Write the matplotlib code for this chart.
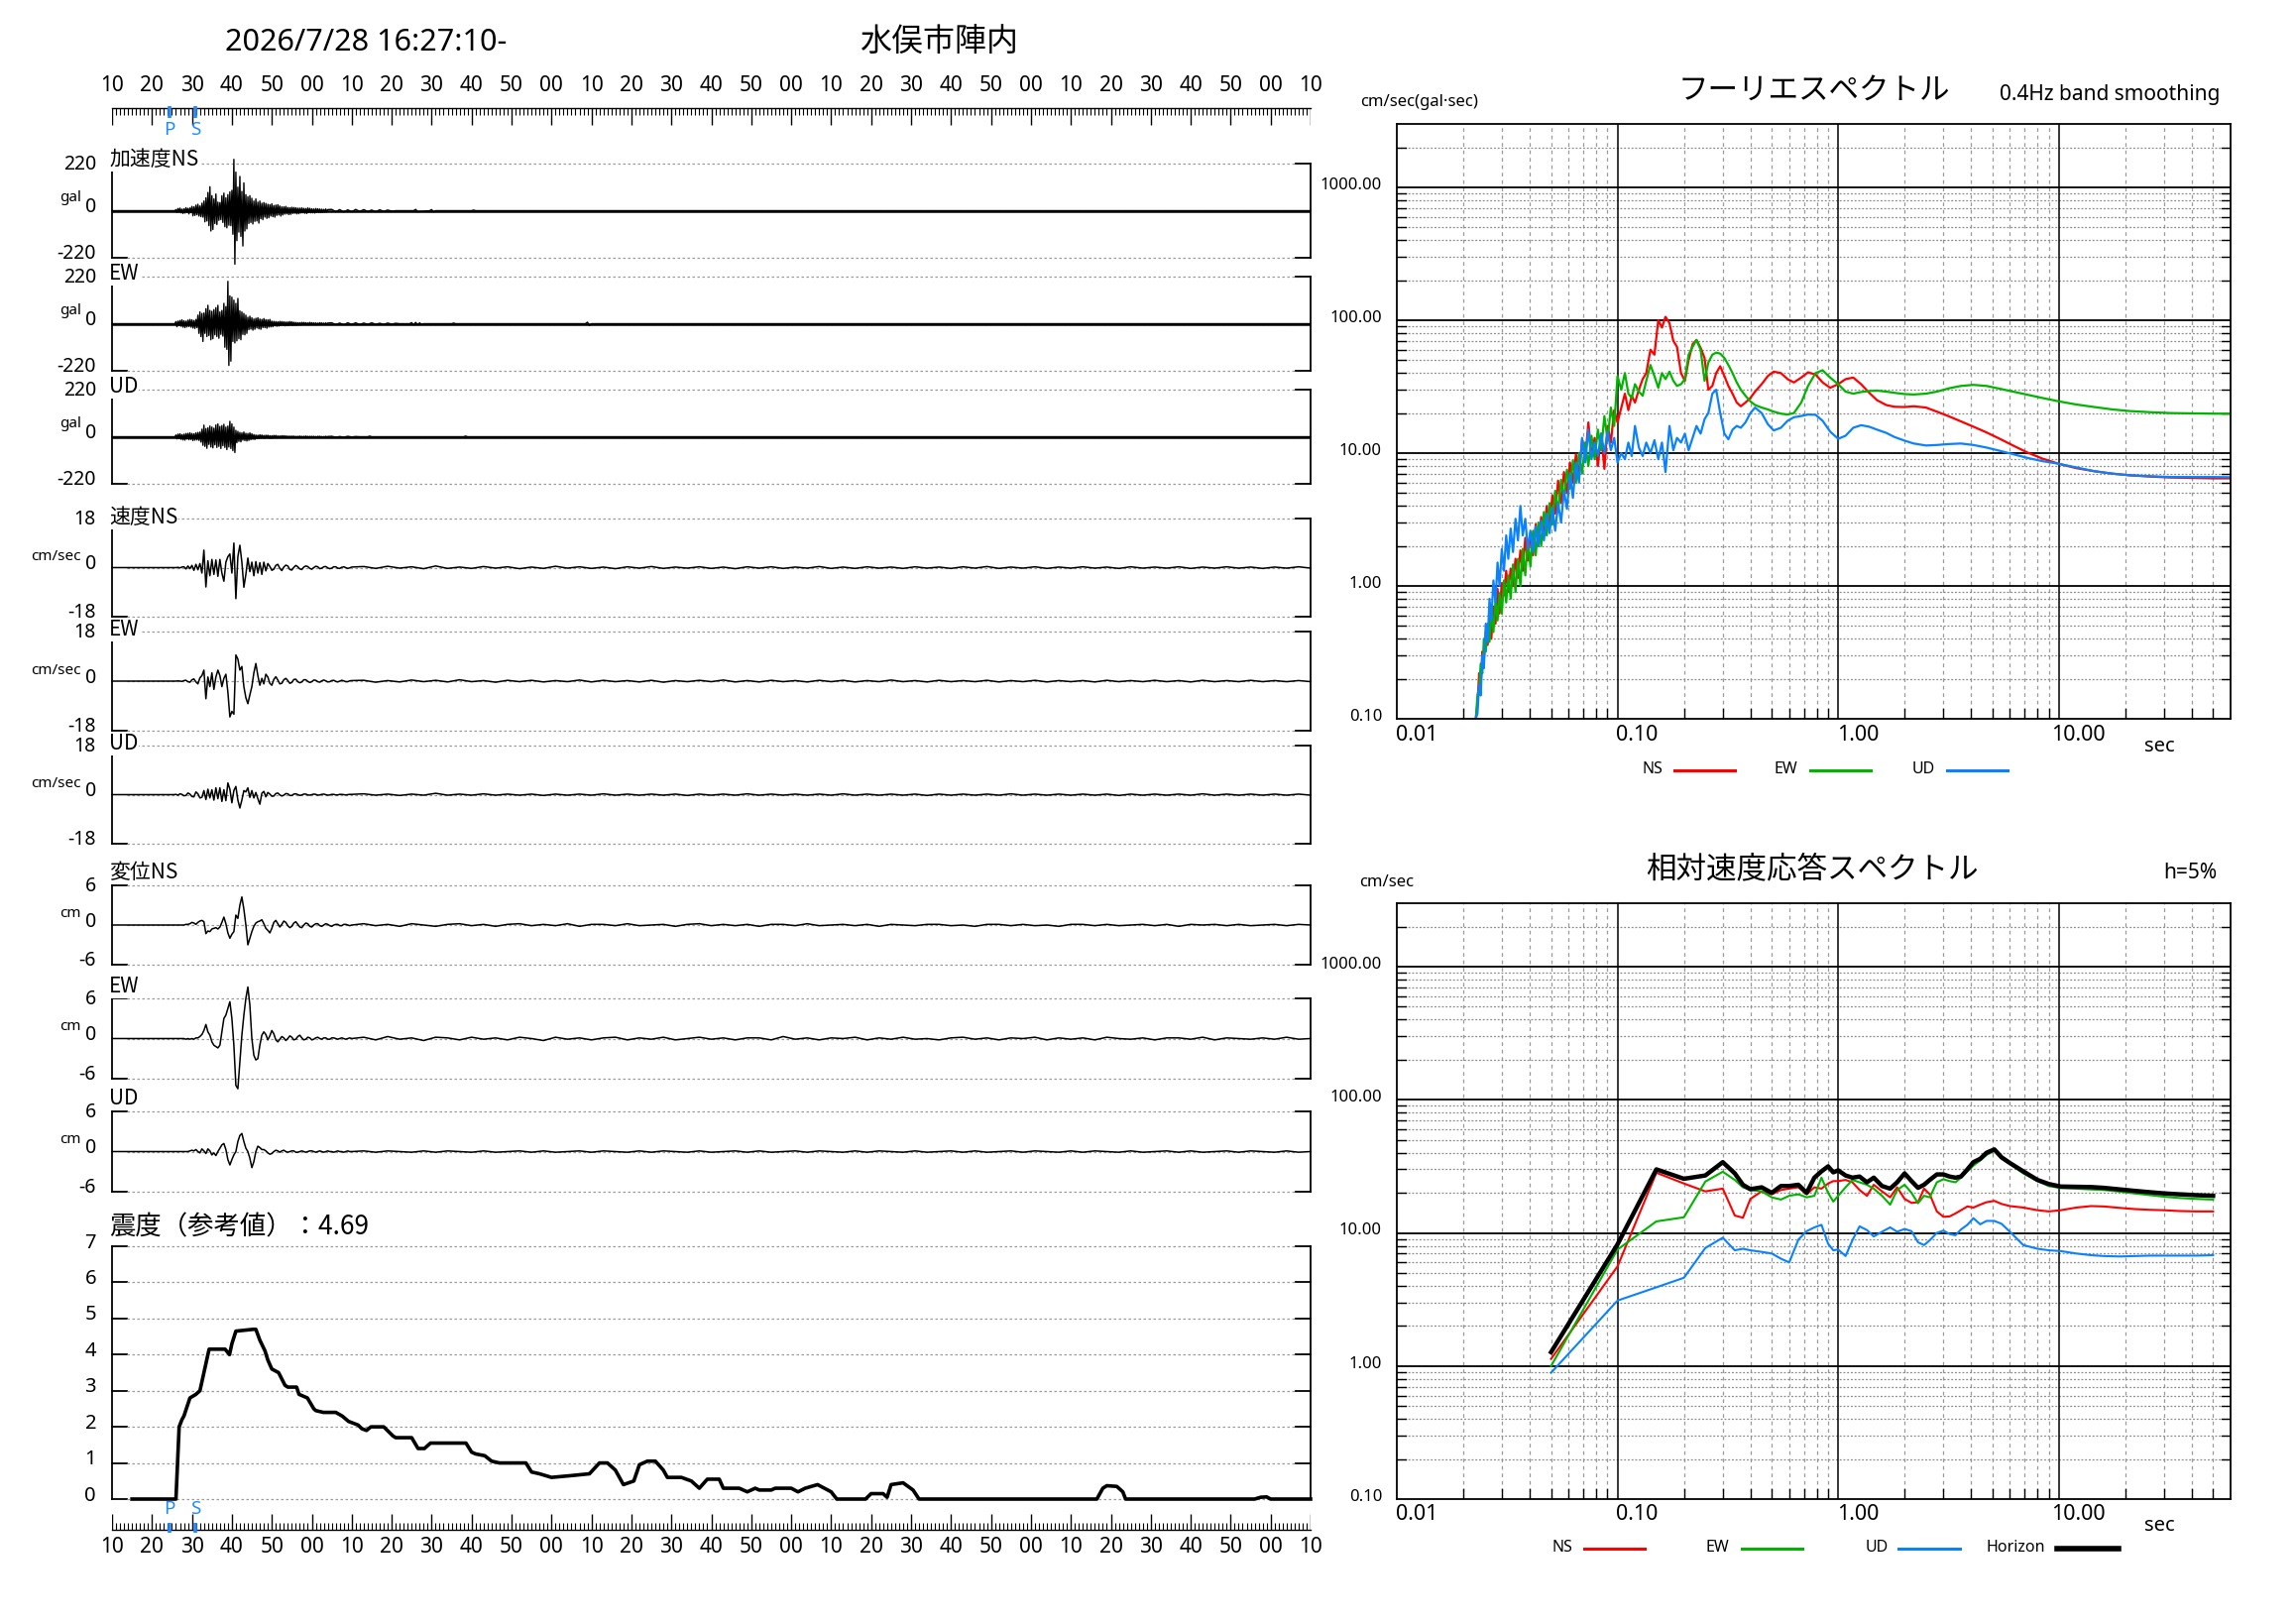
import numpy as np
import matplotlib
matplotlib.use("Agg")
import matplotlib.pyplot as plt
from matplotlib.ticker import NullLocator

W, H = 2316, 1637
JP = ['Noto Sans CJK JP', 'DejaVu Sans']
plt.rcParams['font.family'] = ['Noto Sans', 'DejaVu Sans']

RED, GREEN, BLUE = '#ff0000', '#00b400', '#0a82ff'
PS_BLUE = '#1e8cff'
GRID = '#9a9a9a'

# ---------------- waveform data (times in s from 16:27:10) ----------------
P_TIME, S_TIME = 14.4, 20.8
TIME_LABELS = ['10', '20', '30', '40', '50', '00', '10', '20', '30', '40', '50', '00',
               '10', '20', '30', '40', '50', '00', '10', '20', '30', '40', '50', '00',
               '10', '20', '30', '40', '50', '00', '10']

# acceleration (gal), samples every 0.25 s from 16 s
ACC_NS = [5, -8, 10, -6, 12, -10, 7, -13, 9, -11, 14, -8, 11, -15, 13, -9,
          20, -24, 18, -22, 26, -19, 30, -25, 22, -28, 35, -30, 45, -52, 60, -48,
          85, -70, 112, -95, 70, -88, 55, -60, 78, -65, 40, -45, 38, -42, 70, -55,
          82, -75, 60, -80, 75, -68, 88, -70, 95, -110, 240, -250, 180, -140, 110, -100,
          160, -120, 90, -165, 130, -95, 75, -85, 65, -60, 70, -55, 58, -62, 45, -50,
          55, -48, 40, -58, 45, -38, 35, -42, 38, -30, 34, -36, 30, -33, 28, -25,
          32, -28, 24, -30, 26, -22, 28, -20, 22, -25, 18, -20, 18, -16, 20, -15,
          15, -18, 14, -17, 16, -13, 15, -12, 14, -15, 12, -14, 12, -11, 13, -10,
          11, -12, 10, -13, 13, -9, 11, -10, 9, -10, 8, -11, 10, -8, 9, -9,
          8, -9, 7, -8, 6, -7, 8, -6, 5]
ACC_NS_TAIL_T = [55, 56, 57, 58, 59, 60, 61, 62, 63, 64, 65, 66, 67, 68, 69, 70, 71,
                 75.5, 76, 76.5, 79.5, 80, 80.5, 81, 90, 90.5, 91, 300]
ACC_NS_TAIL_V = [6, -5, 5, -6, 4, -5, 6, -4, 5, -4, 3, -5, 4, -3, 3, -2, 0,
                 0, 6, -5, 0, 5, -6, 0, 0, 3, 0, 0]

ACC_EW = [10, -14, 12, -9, 15, -12, 18, -16, 14, -18, 12, -15, 17, -13, 20, -16,
          18, -20, 15, -22, 20, -18, 40, -45, 55, -60, 48, -83, 50, -45, 70, -60,
          86, -55, 62, -75, 58, -70, 66, -52, 75, -60, 86, -68, 55, -50, 62, -58,
          95, -110, 80, -120, 198, -195, 130, -175, 124, -83, 110, -90, 95, -80, 118, -70,
          60, -75, 55, -50, 48, -52, 40, -45, 30, -28, 35, -25, 28, -30, 22, -26,
          25, -20, 28, -24, 22, -26, 20, -18, 24, -18, 19, -21, 18, -16, 20, -15,
          12, -14, 11, -10, 10, -12, 9, -11, 11, -9, 10, -8, 9, -10, 8, -9,
          8, -9, 10, -7, 9, -8, 7, -8, 6, -7, 5, -6, 5, -6, 6, -5,
          6, -4, 5, -5, 4, -5, 6, -4, 5, -4, 4, -5, 4, -5, 3, -4,
          5, -3, 4, -4, 3, -4, 4, -3, 3]
ACC_EW_TAIL_T = [55, 56, 57, 58, 59, 60, 61, 62, 63, 64, 65, 66, 67, 68, 69, 70, 71, 72,
                 74.5, 75, 75.5, 76, 76.5, 77, 77.5, 78, 85, 85.5, 86,
                 118.5, 119, 119.5, 120, 300]
ACC_EW_TAIL_V = [4, -4, 3, -5, 4, -3, 4, -4, 3, -3, 4, -3, 2, -3, 3, -2, 2, 0,
                 0, 5, -6, 6, -5, 4, -4, 0, 0, 3, 0,
                 0, 7, -8, 0, 0]

ACC_UD = [8, -10, 12, -9, 14, -12, 10, -15, 12, -16, 15, -11, 16, -14, 18, -13,
          15, -18, 14, -16, 18, -15, 20, -17, 22, -25, 35, -40, 54, -45, 38, -54,
          42, -36, 50, -48, 45, -52, 40, -38, 55, -50, 60, -45, 48, -55, 52, -42,
          58, -50, 45, -60, 50, -48, 72, -55, 60, -65, 45, -74, 30, -28, 25, -22,
          20, -24, 18, -16, 22, -18, 16, -20, 15, -17, 18, -14, 14, -12, 10, -13,
          8, -9, 7, -8, 9, -7, 8, -6, 6, -8, 7, -5, 7, -6, 5, -7,
          5, -6, 6, -4, 6, -5, 4, -5, 4, -5, 5, -4, 5, -4, 4, -3,
          3, -4, 3, -3, 3, -2, 3, -3, 2, -3, 2, -2, 3, -2, 2, -3,
          2, -2, 3, -2, 2, -3, 2, -2, 2, -2, 2, -2, 1, -2, 2, -1,
          2, -1, 1, -2, 1, -1, 2, -1, 1]
ACC_UD_TAIL_T = [55, 56, 57, 58, 59, 60, 61, 62, 64, 64.5, 65, 88, 88.5, 89, 300]
ACC_UD_TAIL_V = [2, -2, 1, -2, 2, -1, 1, 0, 0, 3, 0, 0, 3, 0, 0]

# velocity (cm/sec), samples every 0.5 s from 16 s, tail every 3 s from 63 s
VEL_NS = [0, 0.1, -0.1, 0.2, 0.3, -0.5, 0.6, -0.4, 0.8, -1.0, 1.2, -0.8, 1.5, -2.0,
          6.4, -7.1, 2.5, -3.0, 3.0, -2.5, 2.8, -3.2, 3.0, -2.0, -5.0, 2.0, 4.0, 5.0,
          -2.0, 9.0, -11.4, 4.0, 8.2, 2.0, -7.2, -2.5, 3.5, -1.5, 2.0, -3.0, 2.2, -2.0,
          1.8, -2.5, 2.0, -1.2,
          1.5, 0.4, -1.0, -0.6, 0.8, 1.2, -0.3, -1.1, 0.2, 0.9,
          0.6, -0.7, -0.9, 0.1, 0.8, 0.3, -0.5, -0.7, 0.2, 0.6,
          0.4, -0.3, -0.6, 0.0, 0.5, 0.3, -0.4, -0.2, 0.3, 0.4,
          -0.1, -0.4, -0.2, 0.3, 0.3, -0.2, -0.3, 0.1, 0.3, 0.0,
          -0.3, -0.1, 0.2]
VEL_NS_TAIL = [0.4, -0.3, 0.5, -0.2, 0.3, -0.4, 0.6, -0.3, 0.2, -0.3, 0.4, -0.2, 0.3, -0.4,
               0.2, -0.3, 0.5, -0.2, 0.3, -0.3, 0.2, -0.4, 0.3, -0.2, 0.4, -0.3, 0.2, -0.2,
               0.3, -0.3, 0.2, -0.4, 0.3, -0.2, 0.3, -0.3, 0.2, -0.2, 0.4, -0.3, 0.2, -0.3,
               0.3, -0.2, 0.2, -0.3, 0.3, -0.2, 0.2, -0.3, 0.3, -0.2, 0.4, -0.3, 0.2, -0.2,
               0.3, -0.3, 0.2, -0.2, 0.3, -0.2, 0.2, -0.3, 0.3, -0.2, 0.2, -0.2, 0.3, -0.3,
               0.2, -0.2, 0.3, -0.2, 0.2, -0.3, 0.2, -0.2, 0.3, -0.2]
VEL_EW = [0, 0.1, 0.0, -0.1, 0.2, 0.3, -0.2, -0.4, 0.5, 0.8, -0.3, -1.0, 1.2, 2.0,
          4.0, -6.4, 1.5, -2.0, 3.0, -3.0, 1.5, 4.0, 2.0, -2.0, 1.0, 2.5, -4.0, -13.0,
          -11.0, -12.0, 9.5, 8.0, 4.0, 5.3, -2.0, -6.0, -8.2, -5.0, -2.0, 3.0, 6.4, 2.0,
          -1.5, 1.0, -1.0, 2.5,
          1.5, -0.8, -1.5, 0.6, 1.6, 0.4, -1.0, -0.8, 0.5, 1.0,
          0.2, -0.8, -0.5, 0.6, 0.7, -0.2, -0.6, -0.3, 0.5, 0.5,
          -0.1, -0.5, -0.2, 0.4, 0.3, -0.2, -0.4, 0.1, 0.4, 0.1,
          -0.3, -0.2, 0.2, 0.3, -0.1, -0.3, 0.0, 0.3, 0.1, -0.2,
          -0.2, 0.1, 0.2]
VEL_EW_TAIL = [0.3, -0.4, 0.2, -0.3, 0.4, -0.2, 0.3, -0.3, 0.5, -0.2, 0.2, -0.4, 0.3, -0.2,
               0.3, -0.3, 0.2, -0.2, 0.4, -0.3, 0.3, -0.2, 0.2, -0.3, 0.3, -0.4, 0.2, -0.2,
               0.3, -0.2, 0.4, -0.3, 0.2, -0.3, 0.3, -0.2, 0.2, -0.3, 0.3, -0.2, 0.3, -0.3,
               0.2, -0.2, 0.4, -0.2, 0.2, -0.3, 0.3, -0.2, 0.2, -0.2, 0.3, -0.3, 0.2, -0.2,
               0.3, -0.3, 0.2, -0.2, 0.2, -0.3, 0.3, -0.2, 0.2, -0.2, 0.3, -0.2, 0.2, -0.3,
               0.3, -0.2, 0.2, -0.2, 0.3, -0.2, 0.2, -0.2, 0.2, -0.2]
VEL_UD = [0.1, -0.2, 0.3, 0.1, -0.4, -0.3, 0.6, 0.2, -0.7, -0.8, 1.0, 0.3, -1.2, -1.0,
          1.5, -1.8, 2.0, -1.2, 1.8, -2.0, 2.5, -1.5, 2.5, -2.5, 1.8, -2.2, 4.3, 2.0,
          -3.0, 1.5, 3.0, -2.0, -4.9, -2.0, 1.5, 1.0, 2.5, -1.0, 1.5, -1.2, 0.8, -1.5,
          -3.5, 0.5, 1.2, -0.8,
          0.8, 0.2, -0.6, -0.5, 0.4, 0.6, -0.1, -0.5, -0.2, 0.4,
          0.3, -0.3, -0.3, 0.2, 0.3, 0.0, -0.3, -0.1, 0.2, 0.2,
          -0.1, -0.2, 0.0, 0.2, 0.1, -0.2, -0.1, 0.1, 0.2, 0.0,
          -0.2, -0.1, 0.1, 0.1, -0.1, -0.1, 0.1, 0.1, 0.0, -0.1,
          0.0, 0.1, 0.1]
VEL_UD_TAIL = [0.3, -0.2, 0.2, -0.3, 0.2, -0.2, 0.5, -0.2, 0.2, -0.2, 0.3, -0.2, 0.2, -0.2,
               0.2, -0.3, 0.2, -0.2, 0.2, -0.2, 0.3, -0.2, 0.2, -0.2, 0.2, -0.2, 0.2, -0.3,
               0.2, -0.2, 0.2, -0.2, 0.3, -0.2, 0.2, -0.2, 0.2, -0.2, 0.2, -0.2, 0.3, -0.2,
               0.2, -0.2, 0.2, -0.2, 0.2, -0.3, 0.2, -0.2, 0.2, -0.2, 0.2, -0.2, 0.3, -0.2,
               0.2, -0.2, 0.2, -0.2, 0.2, -0.2, 0.2, -0.3, 0.2, -0.2, 0.2, -0.2, 0.2, -0.2,
               0.3, -0.2, 0.2, -0.2, 0.2, -0.2, 0.2, -0.2, 0.2, -0.2]

# displacement (cm), samples every 0.5 s from 16 s, tail every 3 s from 63 s
DIS_NS = [0, 0, 0, 0, 0, 0.1, 0.1, 0.2, 0.4, 0.3, 0.1, 0.4, 0.6, 0.7,
          0.5, -1.3, -0.9, -1.0, -0.6, -0.5, -0.4, -0.6, -0.3, 0.4, 1.2, 0.2, -1.2, -2.0,
          -1.4, -1.0, 1.5, 1.0, 3.0, 4.25, 2.4, 0.0, -3.0, -2.0, -1.0, -0.2, 0.3, 0.5,
          0.6, 0.8, 0.2, -0.5, -0.8, -1.2, -0.5, 0.4, 0.7, 0.2,
          -0.3, 0.1, 0.6, 0.4, -0.1, -0.4, -0.2, 0.3, 0.5, 0.1,
          -0.3, -0.4, 0.0, 0.3, 0.2, -0.2, -0.3, 0.0, 0.2, 0.2,
          -0.1, -0.2, 0.0, 0.2, 0.1, -0.1, -0.2, 0.0, 0.1, 0.1,
          -0.1, -0.1, 0.1, 0.1, 0.0, -0.1, 0.0]
DIS_NS_TAIL = [0.2, -0.1, 0.1, -0.2, 0.2, 0.0, -0.2, 0.1, 0.2, -0.1, 0.1, -0.2, 0.1, 0.2,
               -0.1, 0.1, -0.1, 0.2, -0.2, 0.1, 0.1, -0.1, 0.2, -0.1, 0.0, 0.1, -0.2, 0.1,
               0.2, -0.1, 0.1, -0.1, 0.1, -0.2, 0.1, 0.1, -0.1, 0.2, -0.1, 0.0, 0.1, -0.1,
               0.1, -0.2, 0.1, 0.0, -0.1, 0.1, 0.1, -0.1, 0.0, -0.2, 0.1, 0.1, -0.1, 0.1,
               -0.1, 0.0, -0.2, 0.1, 0.1, -0.1, 0.1, -0.1, 0.0, 0.1, -0.1, 0.1, -0.2, 0.1,
               0.0, 0.1, -0.1, 0.1, -0.1, 0.0, 0.1, -0.1, 0.1, 0.0]
DIS_EW = [0, 0, 0, 0, 0, -0.1, 0, -0.1, 0, -0.1, 0.1, 0.1, 0.3, 0.6,
          1.2, 2.1, 1.0, 0.5, -0.5, -1.0, -1.2, -1.4, -1.0, 1.0, 3.0, 3.5, 4.5, 5.5,
          3.0, -1.0, -7.0, -7.5, -3.5, 0.5, 3.5, 6.0, 7.7, 5.0, 0.0, -2.5, -3.2, -3.0,
          -1.0, 0.5, 1.0, 0.6, -0.2, 0.4, 1.2, 0.7, -0.2, -0.5,
          -0.1, 0.3, 0.1, -0.3, 0.0, 0.4, 0.2, -0.2, -0.1, 0.3,
          0.5, 0.1, -0.2, -0.1, 0.2, 0.1, -0.2, -0.1, 0.1, 0.2,
          0.0, -0.1, 0.1, 0.1, -0.1, -0.1, 0.1, 0.1, 0.0, -0.1,
          0.0, 0.1, 0.0, -0.1, 0.0, 0.1, 0.0]
DIS_EW_TAIL = [0.2, -0.2, 0.3, -0.1, 0.1, -0.3, 0.2, 0.1, -0.2, 0.2, -0.1, 0.1, -0.2, 0.2,
               0.0, -0.3, 0.2, -0.1, 0.1, -0.2, 0.1, 0.2, -0.2, 0.1, -0.1, 0.2, -0.2, 0.0,
               0.2, -0.1, 0.1, -0.2, 0.1, 0.1, -0.2, 0.3, -0.1, 0.1, -0.2, 0.1, 0.0, 0.2,
               -0.2, 0.1, -0.1, 0.2, -0.1, 0.0, -0.2, 0.1, 0.2, -0.1, 0.1, -0.2, 0.1, 0.0,
               0.2, -0.2, 0.1, -0.1, 0.1, -0.2, 0.2, 0.0, -0.1, 0.1, -0.2, 0.1, 0.1, -0.1,
               0.2, -0.2, 0.1, 0.0, -0.1, 0.1, -0.1, 0.2, -0.1, 0.0]
DIS_UD = [0, 0, 0, 0, 0, 0, 0, 0.1, 0.2, 0.1, 0.3, 0.0, -0.2, 0.4,
          0.1, -0.3, 0.4, 0.1, -0.5, -0.2, -0.6, 0.0, 0.5, 1.0, 1.2, 0.3, -1.2, -2.0,
          -1.2, -0.5, 0.0, 1.5, 2.4, 2.7, 1.5, 0.5, 0.0, -1.0, -2.4, -1.5, 0.0, 0.8,
          0.6, 0.3, 0.3, 0.1, -0.2, -0.4, -0.3, 0.0, 0.2, 0.1,
          -0.1, 0.1, 0.2, 0.0, -0.1, 0.0, 0.1, 0.1, -0.1, -0.1,
          0.0, 0.1, 0.0, -0.1, 0.0, 0.1, 0.1, 0.0, -0.1, 0.0,
          0.1, 0.0, -0.1, 0.0, 0.1, 0.0, 0.0, -0.1, 0.0, 0.1,
          0.0, 0.0, -0.1, 0.0, 0.1, 0.0, 0.0]
DIS_UD_TAIL = [0.1, -0.1, 0.1, 0.0, -0.1, 0.1, -0.1, 0.1, 0.0, -0.1, 0.1, -0.1, 0.0, 0.1,
               -0.1, 0.1, -0.1, 0.0, 0.1, -0.1, 0.1, 0.0, -0.1, 0.1, -0.1, 0.1, 0.0, -0.1,
               0.1, -0.1, 0.0, 0.1, -0.1, 0.1, -0.1, 0.0, 0.1, -0.1, 0.1, 0.0, -0.1, 0.1,
               -0.1, 0.1, 0.0, -0.1, 0.1, -0.1, 0.0, 0.1, -0.1, 0.1, -0.1, 0.0, 0.1, -0.1,
               0.1, 0.0, -0.1, 0.1, -0.1, 0.1, 0.0, -0.1, 0.1, -0.1, 0.0, 0.1, -0.1, 0.1,
               -0.1, 0.0, 0.1, -0.1, 0.1, 0.0, -0.1, 0.1, -0.1, 0.0]

# seismic intensity (reference value)
INTENSITY_MAX = '4.69'
INT_T = [5, 16, 16.8, 17.5, 18, 19.5, 21, 22, 23, 24.3,
         25, 28.3, 29.4, 30, 31, 35.4, 36, 37, 38.3, 39,
         40, 41.7, 43.3, 44, 46.2, 46.8, 48.9, 50.5, 51, 52.9,
         56, 57.6, 59.2, 61.6, 62.5, 63.7, 64.8, 68, 70.3, 71,
         75, 76.6, 78.2, 79.7, 88.6, 90, 91, 93.3, 95, 97,
         103.6, 105, 107, 110, 115, 119.5, 122, 124, 126, 128,
         130.6, 132, 134, 136, 138, 139, 142.5, 145, 147, 149,
         152, 153, 157, 159, 161, 162, 165, 166, 170, 171.7,
         173.5, 176.6, 180, 181.4, 188.6, 190, 193, 194, 195, 198,
         200.5, 202, 246.5, 248, 249, 251.5, 253, 253.7, 286, 287.5,
         289, 290, 300]
INT_V = [0, 0, 2.0, 2.2, 2.3, 2.8, 2.9, 3.0, 3.5, 4.15,
         4.15, 4.15, 4.0, 4.3, 4.65, 4.7, 4.7, 4.4, 4.1, 3.85,
         3.6, 3.5, 3.15, 3.1, 3.1, 2.9, 2.8, 2.5, 2.45, 2.4,
         2.4, 2.3, 2.15, 2.05, 1.95, 1.9, 2.0, 2.0, 1.75, 1.7,
         1.7, 1.4, 1.4, 1.55, 1.55, 1.3, 1.25, 1.2, 1.05, 1.0,
         1.0, 0.75, 0.7, 0.6, 0.65, 0.7, 1.0, 1.0, 0.8, 0.4,
         0.5, 0.95, 1.05, 1.05, 0.8, 0.6, 0.6, 0.5, 0.3, 0.55,
         0.55, 0.3, 0.3, 0.2, 0.3, 0.25, 0.25, 0.3, 0.3, 0.2,
         0.3, 0.4, 0.2, 0.0, 0.0, 0.15, 0.15, 0.05, 0.4, 0.45,
         0.25, 0.0, 0.0, 0.3, 0.37, 0.35, 0.2, 0.0, 0.0, 0.05,
         0.06, 0.0, 0.0]

# ---------------- Fourier spectrum (cm/sec) ----------------
FS_T = [0.0228, 0.0232, 0.0236, 0.0240, 0.0244, 0.0248, 0.0253, 0.0258, 0.0263, 0.0268,
        0.0274, 0.0280, 0.0286, 0.0292, 0.0299, 0.0306, 0.0313, 0.0320, 0.0328, 0.0336,
        0.0345, 0.0354, 0.0363, 0.0372, 0.0382, 0.0392, 0.0403, 0.0414, 0.0426, 0.0438,
        0.0451, 0.0464, 0.0478, 0.0492, 0.0507, 0.0522, 0.0538, 0.0555, 0.0572, 0.0590,
        0.0609, 0.0628, 0.0648, 0.0669, 0.0691, 0.0714, 0.0738, 0.0762, 0.0788, 0.0815,
        0.0843, 0.0872, 0.0902, 0.0933, 0.0966, 0.100,
        0.104, 0.108, 0.112, 0.116, 0.120, 0.125, 0.130, 0.135, 0.141, 0.147,
        0.153, 0.159, 0.165, 0.172, 0.179, 0.186, 0.194, 0.202, 0.210, 0.219,
        0.228, 0.238, 0.248, 0.258, 0.269, 0.280, 0.292, 0.305, 0.318, 0.332,
        0.347, 0.362,
        0.38, 0.40, 0.42, 0.45, 0.48, 0.51, 0.55, 0.59, 0.63, 0.68,
        0.73, 0.79, 0.85, 0.92, 1.0, 1.08, 1.17, 1.27, 1.38, 1.5,
        1.65, 1.8, 2.0, 2.2, 2.5, 2.8, 3.2, 3.6, 4.1, 4.7,
        5.4, 6.2, 7.2, 8.4, 10, 12, 14.5, 17.5, 21, 26,
        32, 40, 50, 60]
FS_NS = [0.10, 0.13, 0.22, 0.18, 0.32, 0.28, 0.45, 0.36, 0.58, 0.40,
         0.70, 0.52, 0.95, 0.62, 1.05, 0.85, 1.30, 0.90, 1.35, 1.00,
         1.60, 1.15, 1.85, 1.30, 2.30, 1.55, 2.50, 1.70, 2.90, 2.00,
         3.30, 2.40, 4.00, 2.90, 4.80, 3.50, 6.20, 4.20, 7.20, 5.00,
         8.50, 6.00, 9.80, 6.80, 12.5, 9.0, 17.0, 9.5, 13.0, 8.0,
         14.0, 7.6, 16.0, 12.0, 21.0, 17.0,
         22, 28, 21, 27, 24, 30, 36, 40, 60, 55,
         100, 88, 106, 95, 70, 63, 40, 35, 50, 66,
         71, 62, 52, 30, 32, 40, 45, 38, 32, 28,
         24, 22.5,
         24, 26, 29, 33, 38, 41, 40, 36, 34, 37,
         40.5, 39, 34, 31, 33, 36, 37, 33, 28.5, 25,
         23, 22.3, 22.2, 22.5, 22, 20.5, 18.8, 17.3, 15.8, 14.3,
         12.8, 11.4, 10.1, 9.1, 8.3, 7.7, 7.3, 7.0, 6.8, 6.65,
         6.55, 6.5, 6.45, 6.45]
FS_EW = [0.10, 0.15, 0.17, 0.26, 0.22, 0.40, 0.32, 0.52, 0.38, 0.65,
         0.45, 0.78, 0.55, 0.88, 0.62, 1.10, 0.75, 1.20, 0.80, 1.45,
         0.90, 1.60, 1.00, 1.90, 1.20, 2.20, 1.40, 2.60, 1.70, 3.00,
         2.00, 3.60, 2.40, 4.20, 2.90, 5.20, 3.60, 6.30, 4.50, 7.50,
         5.40, 8.80, 6.00, 10.0, 7.00, 12.0, 8.00, 13.5, 9.00, 15.0,
         10.5, 19.0, 12.5, 22.0, 16.0, 38.0,
         30, 40, 28, 26, 33, 29, 27, 35, 46, 38,
         31, 40, 36, 41, 35, 32, 33, 36, 55, 63,
         71, 60, 35, 48, 55, 57, 56, 52, 46, 40,
         34, 30,
         27, 24.5, 23, 22, 21.3, 20.5, 19.8, 19.5, 20, 24,
         32, 40, 42, 37, 33, 29, 28, 28.8, 29.3, 29.5,
         29, 28.4, 27.8, 27.6, 28, 29, 30.8, 32, 32.6, 32,
         30.5, 29, 27.5, 26, 24.5, 23.2, 22.2, 21.3, 20.7, 20.3,
         20, 19.9, 19.8, 19.8]
FS_UD = [0.10, 0.11, 0.18, 0.15, 0.30, 0.24, 0.52, 0.38, 0.80, 0.55,
         1.10, 0.75, 1.50, 1.00, 1.90, 1.30, 2.40, 1.60, 2.70, 1.80,
         3.20, 2.20, 4.00, 2.40, 3.20, 1.90, 2.60, 1.80, 2.80, 2.00,
         3.10, 2.20, 3.50, 2.50, 3.90, 2.60, 4.20, 3.00, 5.20, 3.80,
         7.00, 4.60, 8.50, 6.00, 13.0, 8.50, 15.0, 9.00, 12.0, 9.50,
         14.0, 10.0, 14.5, 10.5, 13.0, 8.50,
         10, 9, 12, 9.5, 16, 11, 9.5, 12, 10, 12.5,
         9, 12, 7.2, 16, 10.5, 13, 12, 14, 10.5, 13,
         16, 14, 18, 20, 28, 30, 20, 14, 12.7, 15,
         16, 15.5,
         17, 20, 22, 20, 16.5, 14.8, 15.5, 17.5, 18.6, 19,
         19.5, 19.4, 17.5, 14.5, 12.8, 13.5, 15.5, 16.2, 15.8, 15,
         14.2, 13.2, 12.4, 11.8, 11.4, 11.5, 11.7, 11.8, 11.5, 11,
         10.4, 9.8, 9.2, 8.7, 8.3, 7.8, 7.3, 7.0, 6.8, 6.7,
         6.6, 6.6, 6.6, 6.58]

# ---------------- relative velocity response spectrum, h=5% (cm/sec) ----------------
RS_T = [0.05, 0.10, 0.15, 0.20, 0.25, 0.30, 0.34, 0.37, 0.40, 0.45,
        0.50, 0.55, 0.60, 0.66, 0.72, 0.78, 0.84, 0.90, 0.95, 1.00,
        1.08, 1.16, 1.25, 1.35, 1.45, 1.58, 1.72, 1.85, 2.00, 2.15,
        2.30, 2.45, 2.60, 2.80, 3.00, 3.20, 3.40, 3.60, 3.85, 4.10,
        4.40, 4.70, 5.10, 5.50, 6.00, 6.90, 8.00, 9.00, 10.2, 12.0,
        14.0, 16.0, 19.0, 22.0, 26.0, 30.0, 35.0, 42.0, 50.0]
RS_HOR = [1.27, 8.2, 30, 25.5, 27, 34, 28, 23, 21.3, 22,
          20, 22.5, 22.5, 23, 20, 26, 29, 31.6, 28.5, 29.5,
          27, 26, 26.5, 24, 26, 22.5, 21.5, 24, 28, 24.5,
          21.8, 23, 25, 27.5, 27.5, 26.5, 26, 26.5, 30, 34,
          36, 40, 42.4, 37, 33.5, 29, 25, 23.3, 22.3, 22.2,
          22.1, 21.8, 21.2, 20.7, 20.2, 19.8, 19.5, 19.2, 19]
RS_NS = [1.13, 5.6, 28.3, 23.5, 20.5, 21.5, 13.5, 13.0, 18, 20.5,
         19.5, 21, 21.5, 22, 19.5, 22, 21.5, 23.5, 24.5, 24.5,
         25, 24, 21, 19, 23, 20.5, 18.5, 22, 18, 16.8,
         17, 21.5, 19.5, 14.5, 13.2, 13.3, 14, 14.8, 15.8, 15.5,
         16.3, 17, 17.4, 16.5, 15.9, 15.5, 14.8, 14.5, 14.8, 15.5,
         15.9, 15.8, 15.4, 15.1, 14.9, 14.8, 14.6, 14.5, 14.5]
RS_EW = [1.0, 7.5, 12.2, 13.1, 24.3, 28.8, 25, 22, 21, 20.5,
         18.5, 17.8, 19, 19.5, 18.5, 19, 26, 20, 17.2, 19,
         22, 25, 24, 23, 21.5, 19, 16.3, 21, 23, 20,
         16.7, 19, 18.5, 24, 25.3, 24.5, 24, 26, 29, 32,
         35, 38.5, 41.4, 36, 33, 28, 24.5, 22.5, 21.7, 21.5,
         21.2, 21, 20.4, 19.8, 19.2, 18.7, 18.3, 18, 17.8]
RS_UD = [0.89, 3.1, 3.9, 4.6, 7.7, 9.2, 7.4, 7.6, 7.4, 7.2,
         7.0, 6.4, 6.0, 8.9, 10.3, 11.0, 11.5, 8.3, 7.4, 7.5,
         6.7, 8.8, 11.2, 10.5, 9.4, 10.2, 11.0, 10.2, 10.7, 10.3,
         8.5, 8.1, 8.8, 10.0, 10.4, 9.8, 9.6, 10.6, 11.5, 12.9,
         11.6, 12.3, 12.3, 11.7, 10.2, 8.1, 7.6, 7.4, 7.3, 7.0,
         6.8, 6.7, 6.65, 6.7, 6.75, 6.75, 6.75, 6.75, 6.8]

SPEC_YT = [0.1, 1, 10, 100, 1000]
SPEC_YL = ['0.10', '1.00', '10.00', '100.00', '1000.00']
SPEC_XT = [0.01, 0.1, 1, 10]
SPEC_XL = ['0.01', '0.10', '1.00', '10.00']

# ---------------- drawing ----------------
fig = plt.figure(figsize=(W / 100, H / 100), dpi=100)


def px_axes(x0, y0, x1, y1):
    return fig.add_axes([x0 / W, 1 - y1 / H, (x1 - x0) / W, (y1 - y0) / H])


def trace(dense, t0, dt, tail_t, tail_v):
    t = np.concatenate([[0, t0 - dt], t0 + dt * np.arange(len(dense)), tail_t])
    v = np.concatenate([[0, 0], dense, tail_v])
    return t, v


def grid_tail(vals, t0=63, dt=3):
    return list(t0 + dt * np.arange(len(vals))) + [300], list(vals) + [0]


def wave_panel(top, bot, amp, t, v, lw, labels, unit, unit_dy, base_lw=0):
    ax = px_axes(113, top, 1322, bot)
    ax.set_xlim(0, 300)
    ax.set_ylim(-amp, amp)
    ax.axis('off')
    tr = ax.get_yaxis_transform()
    k = 15 / 1209
    for xx in (0, 1):
        ax.plot([xx, xx], [-amp, amp], color='k', lw=1.3, transform=tr, clip_on=False)
    for y in (amp, -amp):
        ax.plot([0, k], [y, y], color='k', lw=1.3, transform=tr, clip_on=False)
        ax.plot([1 - k, 1], [y, y], color='k', lw=1.3, transform=tr, clip_on=False)
    for y in (amp, 0, -amp):
        ax.plot([k, 1 - k], [y, y], color=GRID, lw=0.9, ls=(0, (2, 2)),
                transform=tr, clip_on=False)
    if base_lw:
        ax.plot([0, 1], [0, 0], color='k', lw=base_lw, transform=tr, zorder=2)
    ax.plot(t, v, color='k', lw=lw, clip_on=False, zorder=3)
    for y, s, dy in zip((amp, 0, -amp), labels, (-0.6, 2.5, 3.2)):
        ax.annotate(s, xy=(0, y), xycoords=tr, xytext=(-11.5, dy),
                    textcoords='offset points', ha='right', va='center', fontsize=14)
    ax.annotate(unit, xy=(0, 0), xycoords=tr, xytext=(-22.3, unit_dy),
                textcoords='offset points', ha='right', va='center', fontsize=11)
    return ax


acc = [trace(ACC_NS, 16, 0.25, ACC_NS_TAIL_T, ACC_NS_TAIL_V),
       trace(ACC_EW, 16, 0.25, ACC_EW_TAIL_T, ACC_EW_TAIL_V),
       trace(ACC_UD, 16, 0.25, ACC_UD_TAIL_T, ACC_UD_TAIL_V)]
vel = [trace(VEL_NS, 16, 0.5, *grid_tail(VEL_NS_TAIL)),
       trace(VEL_EW, 16, 0.5, *grid_tail(VEL_EW_TAIL)),
       trace(VEL_UD, 16, 0.5, *grid_tail(VEL_UD_TAIL))]
dis = [trace(DIS_NS, 16, 0.5, *grid_tail(DIS_NS_TAIL)),
       trace(DIS_EW, 16, 0.5, *grid_tail(DIS_EW_TAIL)),
       trace(DIS_UD, 16, 0.5, *grid_tail(DIS_UD_TAIL))]

acc_rows = [(165, 260), (279, 374), (393, 488)]
vel_rows = [(523, 622), (637, 737), (752, 851)]
dis_rows = [(893, 973), (1007, 1088), (1121, 1202)]

for (top, bot), (t, v) in zip(acc_rows, acc):
    wave_panel(top, bot, 220, t, v, 1.0, ['220', '0', '-220'], 'gal', 9.4, base_lw=1.8)
for (top, bot), (t, v) in zip(vel_rows, vel):
    wave_panel(top, bot, 18, t, v, 1.1, ['18', '0', '-18'], 'cm/sec', 7.9)
for (top, bot), (t, v) in zip(dis_rows, dis):
    wave_panel(top, bot, 6, t, v, 1.1, ['6', '0', '-6'], 'cm', 8.6)

# intensity panel
iax = px_axes(113, 1257, 1322, 1512)
iax.set_xlim(0, 300)
iax.set_ylim(0, 7)
iax.axis('off')
itr = iax.get_yaxis_transform()
k = 15 / 1209
for xx in (0, 1):
    iax.plot([xx, xx], [0, 7], color='k', lw=1.3, transform=itr, clip_on=False)
for lev in range(8):
    iax.plot([0, k], [lev, lev], color='k', lw=1.3, transform=itr, clip_on=False)
    iax.plot([1 - k, 1], [lev, lev], color='k', lw=1.3, transform=itr, clip_on=False)
    iax.plot([k, 1 - k], [lev, lev], color=GRID, lw=0.9, ls=(0, (2, 2)),
             transform=itr, clip_on=False)
    iax.annotate(str(lev), xy=(0, lev), xycoords=itr, xytext=(-11.5, 2.5),
                 textcoords='offset points', ha='right', va='center', fontsize=14.5)
iax.plot(INT_T, INT_V, color='k', lw=2.6, clip_on=False, zorder=3)


# time rulers
def ruler(y0, y1, base, minor_end, major_end, ps_y0, ps_y1, ps_label_y, label_y):
    r = px_axes(113, y0, 1322, y1)
    r.set_xlim(0, 300)
    r.set_ylim(y1, y0)
    r.axis('off')
    secs = np.arange(0, 301)
    r.plot([0, 300], [base, base], color='k', lw=1.0, clip_on=False)
    r.vlines(secs[secs % 10 != 0], base, minor_end, color='k', lw=0.8)
    r.vlines(secs[secs % 10 == 0], base, major_end, color='k', lw=1.0)
    r.vlines([P_TIME, S_TIME], ps_y0, ps_y1, color=PS_BLUE, lw=2.6)
    for tt, s in zip((P_TIME, S_TIME), ('P', 'S')):
        r.text(tt, ps_label_y, s, color=PS_BLUE, ha='center', va='center', fontsize=13.5)
    for i, s in enumerate(TIME_LABELS):
        r.text(10 * i, label_y, s, ha='center', va='center', fontsize=15)


ruler(60, 140, 109, 116, 126, 107, 119, 131, 86)
ruler(1505, 1580, 1543, 1536, 1527, 1536, 1546, 1522, 1560)


# spectra
def spec_axes(top, bot, xlab_dy):
    ax = px_axes(1409, top, 2250, bot)
    ax.set_xscale('log')
    ax.set_yscale('log')
    ax.set_xlim(0.01, 60)
    ax.set_ylim(0.1, 3000)
    for axis in (ax.xaxis, ax.yaxis):
        axis.set_major_locator(NullLocator())
        axis.set_minor_locator(NullLocator())
    for sp in ax.spines.values():
        sp.set_linewidth(1.3)
    xt = ax.get_xaxis_transform()
    yt = ax.get_yaxis_transform()
    for dec in (0.01, 0.1, 1, 10):
        for m in range(2, 10):
            xv = m * dec
            if xv < 60:
                ax.axvline(xv, color=GRID, lw=0.9, ls=(0, (3, 3)))
                ax.plot([xv, xv], [0, 0.017], color='k', lw=1.0, transform=xt)
    for dec in (0.1, 1, 10, 100, 1000):
        for m in range(2, 10):
            yv = m * dec
            if yv < 3000:
                ax.axhline(yv, color='#8a8a8a', lw=0.9, ls=(0, (1.5, 1.5)))
                ax.plot([0, 0.0102], [yv, yv], color='k', lw=1.0, transform=yt)
                ax.plot([0.9898, 1], [yv, yv], color='k', lw=1.0, transform=yt)
    for xv in (0.1, 1, 10):
        ax.axvline(xv, color='k', lw=1.1)
    for yv in (1, 10, 100, 1000):
        ax.axhline(yv, color='k', lw=1.3)
    for yv, s in zip(SPEC_YT, SPEC_YL):
        ax.annotate(s, xy=(0, yv), xycoords=yt, xytext=(-10.8, 1.5),
                    textcoords='offset points', ha='right', va='center', fontsize=12)
    for xv, s in zip(SPEC_XT, SPEC_XL):
        ax.annotate(s, xy=(xv, 0), xycoords=xt, xytext=(14.4, xlab_dy),
                    textcoords='offset points', ha='center', va='center', fontsize=15.5)
    return ax


fax = spec_axes(125, 725, -12.2)
fax.plot(FS_T, FS_NS, color=RED, lw=1.6)
fax.plot(FS_T, FS_EW, color=GREEN, lw=1.6)
fax.plot(FS_T, FS_UD, color=BLUE, lw=1.6)

rax = spec_axes(911, 1512, -11.5)
rax.plot(RS_T, RS_NS, color=RED, lw=1.5)
rax.plot(RS_T, RS_EW, color=GREEN, lw=1.5)
rax.plot(RS_T, RS_UD, color=BLUE, lw=1.5)
rax.plot(RS_T, RS_HOR, color='k', lw=3.2)

# overlay for titles, panel names and legends (pixel coordinates)
ov = fig.add_axes([0, 0, 1, 1])
ov.set_xlim(0, W)
ov.set_ylim(H, 0)
ov.axis('off')
ov.set_zorder(10)

ov.text(369, 43, '2026/7/28 16:27:10-', ha='center', va='center', fontsize=22)
ov.text(947, 43, '水俣市陣内', ha='center', va='center', fontsize=23, family=JP)

box = dict(facecolor='white', edgecolor='none', pad=0.5)
names = [('加速度NS', 161), ('EW', 276), ('UD', 390),
         ('速度NS', 522), ('EW', 635), ('UD', 750),
         ('変位NS', 880), ('EW', 995), ('UD', 1108)]
for s, y in names:
    ov.text(110, y, s, ha='left', va='center', fontsize=15, family=JP, bbox=box)
ov.text(110, 1238, '震度（参考値）：' + INTENSITY_MAX, ha='left', va='center',
        fontsize=19, family=JP)

ov.text(1432, 103, 'cm/sec(gal·sec)', ha='center', va='center', fontsize=12)
ov.text(1830, 91, 'フーリエスペクトル', ha='center', va='center', fontsize=22, family=JP)
ov.text(2128, 95, '0.4Hz band smoothing', ha='center', va='center', fontsize=15)
ov.text(2178, 753, 'sec', ha='center', va='center', fontsize=14.5)

ov.text(1399, 890, 'cm/sec', ha='center', va='center', fontsize=12)
ov.text(1828, 877, '相対速度応答スペクトル', ha='center', va='center', fontsize=22, family=JP)
ov.text(2209, 880, 'h=5%', ha='center', va='center', fontsize=15)
ov.text(2178, 1539, 'sec', ha='center', va='center', fontsize=14.5)

leg1 = [('NS', RED, 1667, 1689, 1750, 2.2), ('EW', GREEN, 1801, 1826, 1887, 2.2),
        ('UD', BLUE, 1940, 1964, 2025, 2.2)]
for s, c, tx, x0, x1, lw in leg1:
    ov.text(tx, 776, s, ha='center', va='center', fontsize=11.5)
    ov.plot([x0, x1], [777, 777], color=c, lw=lw)
leg2 = [('NS', RED, 1576, 1598, 1659, 2.2), ('EW', GREEN, 1732, 1757, 1818, 2.2),
        ('UD', BLUE, 1893, 1915, 1977, 2.2), ('Horizon', 'k', 2033, 2075, 2137, 4.0)]
for s, c, tx, x0, x1, lw in leg2:
    ov.text(tx, 1561, s, ha='center', va='center', fontsize=11.5)
    ov.plot([x0, x1], [1562, 1562], color=c, lw=lw)

fig.savefig('out.png', dpi=100, facecolor='white')
